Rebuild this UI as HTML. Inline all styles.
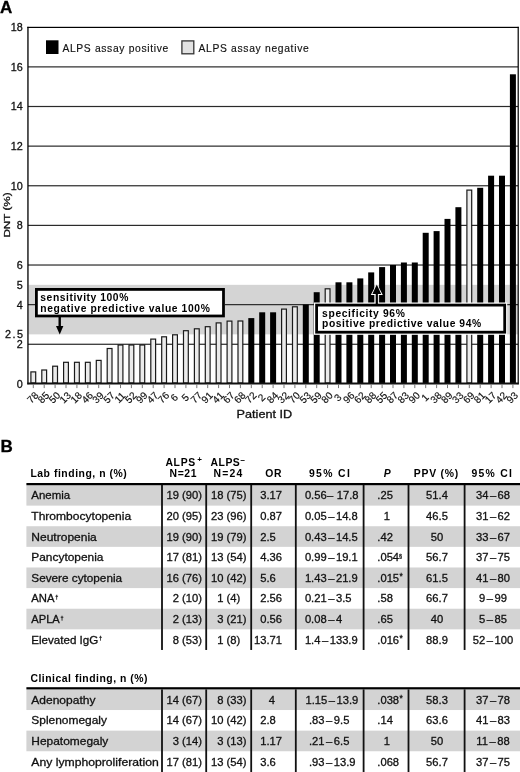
<!DOCTYPE html>
<html><head><meta charset="utf-8"><title>ALPS assay figure</title>
<style>
html,body{margin:0;padding:0;background:#fff;}
svg{display:block;}
text{font-family:"Liberation Sans", Arial, Helvetica, sans-serif;fill:#111;stroke:#111;stroke-width:0.3px;}
.big{font-size:17px;font-weight:700;fill:#000;stroke:#000;stroke-width:0.3px;}
.xl{font-size:10.1px;stroke-width:0.15px;}
.yl{font-size:10.8px;}
.yt{font-size:9.8px;}
.at{font-size:10.4px;}
.lg{font-size:10.3px;stroke-width:0.15px;}
.bx{font-size:10.3px;font-weight:700;fill:#000;stroke:none;}
.hd{font-size:10.4px;font-weight:700;fill:#000;stroke:none;}
.sup{font-size:8px;font-weight:700;fill:#000;stroke:none;}
.td{font-size:11.2px;}
.supd{font-size:5.5px;}
.supa{font-size:8.5px;}
</style></head><body>
<svg width="520" height="772" viewBox="0 0 520 772">
<text x="0" y="13" class="big">A</text>
<rect x="28.5" y="284.83" width="489.5" height="49.54" fill="#d4d4d4"/>
<rect x="28" y="66.28" width="490" height="1.2" fill="#2a2a2a"/>
<rect x="28" y="105.90" width="490" height="1.2" fill="#2a2a2a"/>
<rect x="28" y="145.53" width="490" height="1.2" fill="#2a2a2a"/>
<rect x="28" y="185.16" width="490" height="1.2" fill="#2a2a2a"/>
<rect x="28" y="224.79" width="490" height="1.2" fill="#2a2a2a"/>
<rect x="28" y="264.42" width="490" height="1.2" fill="#2a2a2a"/>
<rect x="28" y="304.04" width="490" height="1.2" fill="#2a2a2a"/>
<rect x="28" y="343.67" width="490" height="1.2" fill="#2a2a2a"/>
<rect x="27.3" y="26.8" width="491.4" height="1.2" fill="#000"/>
<rect x="27.3" y="26.8" width="1.3" height="357.5" fill="#000"/>
<rect x="517.6" y="26.8" width="1.2" height="357.5" fill="#000"/>
<rect x="30.90" y="371.90" width="4.8" height="11.10" fill="#ebebeb" stroke="#1a1a1a" stroke-width="1.2"/>
<rect x="41.80" y="370.00" width="4.8" height="13.00" fill="#ebebeb" stroke="#1a1a1a" stroke-width="1.2"/>
<rect x="52.70" y="366.20" width="4.8" height="16.80" fill="#ebebeb" stroke="#1a1a1a" stroke-width="1.2"/>
<rect x="63.60" y="362.30" width="4.8" height="20.70" fill="#ebebeb" stroke="#1a1a1a" stroke-width="1.2"/>
<rect x="74.50" y="362.30" width="4.8" height="20.70" fill="#ebebeb" stroke="#1a1a1a" stroke-width="1.2"/>
<rect x="85.40" y="362.30" width="4.8" height="20.70" fill="#ebebeb" stroke="#1a1a1a" stroke-width="1.2"/>
<rect x="96.30" y="360.40" width="4.8" height="22.60" fill="#ebebeb" stroke="#1a1a1a" stroke-width="1.2"/>
<rect x="107.20" y="348.50" width="4.8" height="34.50" fill="#ebebeb" stroke="#1a1a1a" stroke-width="1.2"/>
<rect x="118.10" y="345.00" width="4.8" height="38.00" fill="#ebebeb" stroke="#1a1a1a" stroke-width="1.2"/>
<rect x="129.00" y="345.00" width="4.8" height="38.00" fill="#ebebeb" stroke="#1a1a1a" stroke-width="1.2"/>
<rect x="139.90" y="345.00" width="4.8" height="38.00" fill="#ebebeb" stroke="#1a1a1a" stroke-width="1.2"/>
<rect x="150.80" y="339.10" width="4.8" height="43.90" fill="#ebebeb" stroke="#1a1a1a" stroke-width="1.2"/>
<rect x="161.70" y="336.80" width="4.8" height="46.20" fill="#ebebeb" stroke="#1a1a1a" stroke-width="1.2"/>
<rect x="172.60" y="334.80" width="4.8" height="48.20" fill="#ebebeb" stroke="#1a1a1a" stroke-width="1.2"/>
<rect x="183.50" y="330.70" width="4.8" height="52.30" fill="#ebebeb" stroke="#1a1a1a" stroke-width="1.2"/>
<rect x="194.40" y="328.80" width="4.8" height="54.20" fill="#ebebeb" stroke="#1a1a1a" stroke-width="1.2"/>
<rect x="205.30" y="326.70" width="4.8" height="56.30" fill="#ebebeb" stroke="#1a1a1a" stroke-width="1.2"/>
<rect x="216.20" y="322.90" width="4.8" height="60.10" fill="#ebebeb" stroke="#1a1a1a" stroke-width="1.2"/>
<rect x="227.10" y="321.10" width="4.8" height="61.90" fill="#ebebeb" stroke="#1a1a1a" stroke-width="1.2"/>
<rect x="238.00" y="321.00" width="4.8" height="62.00" fill="#ebebeb" stroke="#1a1a1a" stroke-width="1.2"/>
<rect x="248.30" y="318.10" width="6" height="64.90" fill="#000"/>
<rect x="259.20" y="312.30" width="6" height="70.70" fill="#000"/>
<rect x="270.10" y="312.30" width="6" height="70.70" fill="#000"/>
<rect x="281.60" y="309.10" width="4.8" height="73.90" fill="#ebebeb" stroke="#1a1a1a" stroke-width="1.2"/>
<rect x="292.50" y="306.80" width="4.8" height="76.20" fill="#ebebeb" stroke="#1a1a1a" stroke-width="1.2"/>
<rect x="302.80" y="304.50" width="6" height="78.50" fill="#000"/>
<rect x="313.70" y="292.20" width="6" height="90.80" fill="#000"/>
<rect x="325.20" y="288.80" width="4.8" height="94.20" fill="#ebebeb" stroke="#1a1a1a" stroke-width="1.2"/>
<rect x="335.50" y="282.30" width="6" height="100.70" fill="#000"/>
<rect x="346.40" y="282.30" width="6" height="100.70" fill="#000"/>
<rect x="357.30" y="278.40" width="6" height="104.60" fill="#000"/>
<rect x="368.20" y="272.40" width="6" height="110.60" fill="#000"/>
<rect x="379.10" y="267.10" width="6" height="115.90" fill="#000"/>
<rect x="390.00" y="265.00" width="6" height="118.00" fill="#000"/>
<rect x="400.90" y="262.50" width="6" height="120.50" fill="#000"/>
<rect x="411.80" y="262.50" width="6" height="120.50" fill="#000"/>
<rect x="422.70" y="232.80" width="6" height="150.20" fill="#000"/>
<rect x="433.60" y="231.10" width="6" height="151.90" fill="#000"/>
<rect x="444.50" y="218.90" width="6" height="164.10" fill="#000"/>
<rect x="455.40" y="207.20" width="6" height="175.80" fill="#000"/>
<rect x="466.90" y="190.10" width="4.8" height="192.90" fill="#ebebeb" stroke="#1a1a1a" stroke-width="1.2"/>
<rect x="477.20" y="187.80" width="6" height="195.20" fill="#000"/>
<rect x="488.10" y="175.70" width="6" height="207.30" fill="#000"/>
<rect x="499.00" y="175.70" width="6" height="207.30" fill="#000"/>
<rect x="509.90" y="74.30" width="6" height="308.70" fill="#000"/>
<rect x="27.3" y="382.5" width="491.4" height="2" fill="#111"/>
<rect x="32.80" y="384.3" width="1" height="3.8" fill="#777"/>
<text x="32.60" y="397.5" transform="rotate(-45 32.60 397.5)" text-anchor="middle" dy="3.6" class="xl">78</text>
<rect x="43.70" y="384.3" width="1" height="3.8" fill="#777"/>
<text x="43.50" y="397.5" transform="rotate(-45 43.50 397.5)" text-anchor="middle" dy="3.6" class="xl">85</text>
<rect x="54.60" y="384.3" width="1" height="3.8" fill="#777"/>
<text x="54.40" y="397.5" transform="rotate(-45 54.40 397.5)" text-anchor="middle" dy="3.6" class="xl">50</text>
<rect x="65.50" y="384.3" width="1" height="3.8" fill="#777"/>
<text x="65.30" y="397.5" transform="rotate(-45 65.30 397.5)" text-anchor="middle" dy="3.6" class="xl">13</text>
<rect x="76.40" y="384.3" width="1" height="3.8" fill="#777"/>
<text x="76.20" y="397.5" transform="rotate(-45 76.20 397.5)" text-anchor="middle" dy="3.6" class="xl">18</text>
<rect x="87.30" y="384.3" width="1" height="3.8" fill="#777"/>
<text x="87.10" y="397.5" transform="rotate(-45 87.10 397.5)" text-anchor="middle" dy="3.6" class="xl">46</text>
<rect x="98.20" y="384.3" width="1" height="3.8" fill="#777"/>
<text x="98.00" y="397.5" transform="rotate(-45 98.00 397.5)" text-anchor="middle" dy="3.6" class="xl">39</text>
<rect x="109.10" y="384.3" width="1" height="3.8" fill="#777"/>
<text x="108.90" y="397.5" transform="rotate(-45 108.90 397.5)" text-anchor="middle" dy="3.6" class="xl">57</text>
<rect x="120.00" y="384.3" width="1" height="3.8" fill="#777"/>
<text x="119.80" y="397.5" transform="rotate(-45 119.80 397.5)" text-anchor="middle" dy="3.6" class="xl">11</text>
<rect x="130.90" y="384.3" width="1" height="3.8" fill="#777"/>
<text x="130.70" y="397.5" transform="rotate(-45 130.70 397.5)" text-anchor="middle" dy="3.6" class="xl">52</text>
<rect x="141.80" y="384.3" width="1" height="3.8" fill="#777"/>
<text x="141.60" y="397.5" transform="rotate(-45 141.60 397.5)" text-anchor="middle" dy="3.6" class="xl">99</text>
<rect x="152.70" y="384.3" width="1" height="3.8" fill="#777"/>
<text x="152.50" y="397.5" transform="rotate(-45 152.50 397.5)" text-anchor="middle" dy="3.6" class="xl">47</text>
<rect x="163.60" y="384.3" width="1" height="3.8" fill="#777"/>
<text x="163.40" y="397.5" transform="rotate(-45 163.40 397.5)" text-anchor="middle" dy="3.6" class="xl">76</text>
<rect x="174.50" y="384.3" width="1" height="3.8" fill="#777"/>
<text x="174.30" y="397.5" transform="rotate(-45 174.30 397.5)" text-anchor="middle" dy="3.6" class="xl">6</text>
<rect x="185.40" y="384.3" width="1" height="3.8" fill="#777"/>
<text x="185.20" y="397.5" transform="rotate(-45 185.20 397.5)" text-anchor="middle" dy="3.6" class="xl">5</text>
<rect x="196.30" y="384.3" width="1" height="3.8" fill="#777"/>
<text x="196.10" y="397.5" transform="rotate(-45 196.10 397.5)" text-anchor="middle" dy="3.6" class="xl">77</text>
<rect x="207.20" y="384.3" width="1" height="3.8" fill="#777"/>
<text x="207.00" y="397.5" transform="rotate(-45 207.00 397.5)" text-anchor="middle" dy="3.6" class="xl">91</text>
<rect x="218.10" y="384.3" width="1" height="3.8" fill="#777"/>
<text x="217.90" y="397.5" transform="rotate(-45 217.90 397.5)" text-anchor="middle" dy="3.6" class="xl">41</text>
<rect x="229.00" y="384.3" width="1" height="3.8" fill="#777"/>
<text x="228.80" y="397.5" transform="rotate(-45 228.80 397.5)" text-anchor="middle" dy="3.6" class="xl">67</text>
<rect x="239.90" y="384.3" width="1" height="3.8" fill="#777"/>
<text x="239.70" y="397.5" transform="rotate(-45 239.70 397.5)" text-anchor="middle" dy="3.6" class="xl">68</text>
<rect x="250.80" y="384.3" width="1" height="3.8" fill="#777"/>
<text x="250.60" y="397.5" transform="rotate(-45 250.60 397.5)" text-anchor="middle" dy="3.6" class="xl">72</text>
<rect x="261.70" y="384.3" width="1" height="3.8" fill="#777"/>
<text x="261.50" y="397.5" transform="rotate(-45 261.50 397.5)" text-anchor="middle" dy="3.6" class="xl">2</text>
<rect x="272.60" y="384.3" width="1" height="3.8" fill="#777"/>
<text x="272.40" y="397.5" transform="rotate(-45 272.40 397.5)" text-anchor="middle" dy="3.6" class="xl">84</text>
<rect x="283.50" y="384.3" width="1" height="3.8" fill="#777"/>
<text x="283.30" y="397.5" transform="rotate(-45 283.30 397.5)" text-anchor="middle" dy="3.6" class="xl">32</text>
<rect x="294.40" y="384.3" width="1" height="3.8" fill="#777"/>
<text x="294.20" y="397.5" transform="rotate(-45 294.20 397.5)" text-anchor="middle" dy="3.6" class="xl">70</text>
<rect x="305.30" y="384.3" width="1" height="3.8" fill="#777"/>
<text x="305.10" y="397.5" transform="rotate(-45 305.10 397.5)" text-anchor="middle" dy="3.6" class="xl">53</text>
<rect x="316.20" y="384.3" width="1" height="3.8" fill="#777"/>
<text x="316.00" y="397.5" transform="rotate(-45 316.00 397.5)" text-anchor="middle" dy="3.6" class="xl">59</text>
<rect x="327.10" y="384.3" width="1" height="3.8" fill="#777"/>
<text x="326.90" y="397.5" transform="rotate(-45 326.90 397.5)" text-anchor="middle" dy="3.6" class="xl">80</text>
<rect x="338.00" y="384.3" width="1" height="3.8" fill="#777"/>
<text x="337.80" y="397.5" transform="rotate(-45 337.80 397.5)" text-anchor="middle" dy="3.6" class="xl">3</text>
<rect x="348.90" y="384.3" width="1" height="3.8" fill="#777"/>
<text x="348.70" y="397.5" transform="rotate(-45 348.70 397.5)" text-anchor="middle" dy="3.6" class="xl">96</text>
<rect x="359.80" y="384.3" width="1" height="3.8" fill="#777"/>
<text x="359.60" y="397.5" transform="rotate(-45 359.60 397.5)" text-anchor="middle" dy="3.6" class="xl">62</text>
<rect x="370.70" y="384.3" width="1" height="3.8" fill="#777"/>
<text x="370.50" y="397.5" transform="rotate(-45 370.50 397.5)" text-anchor="middle" dy="3.6" class="xl">88</text>
<rect x="381.60" y="384.3" width="1" height="3.8" fill="#777"/>
<text x="381.40" y="397.5" transform="rotate(-45 381.40 397.5)" text-anchor="middle" dy="3.6" class="xl">55</text>
<rect x="392.50" y="384.3" width="1" height="3.8" fill="#777"/>
<text x="392.30" y="397.5" transform="rotate(-45 392.30 397.5)" text-anchor="middle" dy="3.6" class="xl">87</text>
<rect x="403.40" y="384.3" width="1" height="3.8" fill="#777"/>
<text x="403.20" y="397.5" transform="rotate(-45 403.20 397.5)" text-anchor="middle" dy="3.6" class="xl">83</text>
<rect x="414.30" y="384.3" width="1" height="3.8" fill="#777"/>
<text x="414.10" y="397.5" transform="rotate(-45 414.10 397.5)" text-anchor="middle" dy="3.6" class="xl">90</text>
<rect x="425.20" y="384.3" width="1" height="3.8" fill="#777"/>
<text x="425.00" y="397.5" transform="rotate(-45 425.00 397.5)" text-anchor="middle" dy="3.6" class="xl">1</text>
<rect x="436.10" y="384.3" width="1" height="3.8" fill="#777"/>
<text x="435.90" y="397.5" transform="rotate(-45 435.90 397.5)" text-anchor="middle" dy="3.6" class="xl">38</text>
<rect x="447.00" y="384.3" width="1" height="3.8" fill="#777"/>
<text x="446.80" y="397.5" transform="rotate(-45 446.80 397.5)" text-anchor="middle" dy="3.6" class="xl">89</text>
<rect x="457.90" y="384.3" width="1" height="3.8" fill="#777"/>
<text x="457.70" y="397.5" transform="rotate(-45 457.70 397.5)" text-anchor="middle" dy="3.6" class="xl">33</text>
<rect x="468.80" y="384.3" width="1" height="3.8" fill="#777"/>
<text x="468.60" y="397.5" transform="rotate(-45 468.60 397.5)" text-anchor="middle" dy="3.6" class="xl">69</text>
<rect x="479.70" y="384.3" width="1" height="3.8" fill="#777"/>
<text x="479.50" y="397.5" transform="rotate(-45 479.50 397.5)" text-anchor="middle" dy="3.6" class="xl">81</text>
<rect x="490.60" y="384.3" width="1" height="3.8" fill="#777"/>
<text x="490.40" y="397.5" transform="rotate(-45 490.40 397.5)" text-anchor="middle" dy="3.6" class="xl">17</text>
<rect x="501.50" y="384.3" width="1" height="3.8" fill="#777"/>
<text x="501.30" y="397.5" transform="rotate(-45 501.30 397.5)" text-anchor="middle" dy="3.6" class="xl">42</text>
<rect x="512.40" y="384.3" width="1" height="3.8" fill="#777"/>
<text x="512.20" y="397.5" transform="rotate(-45 512.20 397.5)" text-anchor="middle" dy="3.6" class="xl">93</text>
<text x="22.7" y="31.15" text-anchor="end" class="yl">18</text>
<text x="22.7" y="70.78" text-anchor="end" class="yl">16</text>
<text x="22.7" y="110.40" text-anchor="end" class="yl">14</text>
<text x="22.7" y="150.03" text-anchor="end" class="yl">12</text>
<text x="22.7" y="189.66" text-anchor="end" class="yl">10</text>
<text x="22.7" y="229.29" text-anchor="end" class="yl">8</text>
<text x="22.7" y="268.92" text-anchor="end" class="yl">6</text>
<text x="22.7" y="288.73" text-anchor="end" class="yl">5</text>
<text x="22.7" y="308.54" text-anchor="end" class="yl">4</text>
<text x="22.7" y="348.17" text-anchor="end" class="yl">2</text>
<text x="22.7" y="387.80" text-anchor="end" class="yl">0</text>
<text x="5" y="338.06" class="yl" textLength="18" lengthAdjust="spacing">2.5</text>
<text x="0" y="0" transform="translate(10.2 237.6) rotate(-90)" class="yt" textLength="45.2" lengthAdjust="spacingAndGlyphs">DNT (%)</text>
<text x="236.6" y="418.2" class="at" textLength="55.6" lengthAdjust="spacingAndGlyphs">Patient ID</text>
<rect x="46" y="40.3" width="12.5" height="13.7" fill="#000"/>
<text x="62.4" y="51.6" class="lg" textLength="105.8" lengthAdjust="spacing">ALPS assay positive</text>
<rect x="181.9" y="40.9" width="11.9" height="12.9" fill="#e2e2e2" stroke="#333" stroke-width="1.3"/>
<text x="198.5" y="51.6" class="lg" textLength="110.2" lengthAdjust="spacing">ALPS assay negative</text>
<rect x="35" y="288" width="190" height="29.5" fill="#fff"/>
<rect x="36.4" y="289.4" width="187.1" height="26.6" fill="none" stroke="#000" stroke-width="2.8"/>
<text x="40.3" y="301.3" class="bx" textLength="88" lengthAdjust="spacing">sensitivity 100%</text>
<text x="40.3" y="312.2" class="bx" textLength="169.5" lengthAdjust="spacing">negative predictive value 100%</text>
<rect x="58.5" y="317" width="2.4" height="10" fill="#000"/>
<polygon points="56,326 63.4,326 59.7,334.5" fill="#000"/>
<rect x="314" y="302.5" width="193.2" height="32.3" fill="#fff"/>
<rect x="316.6" y="305.1" width="188.1" height="27.1" fill="none" stroke="#000" stroke-width="2.8"/>
<text x="322.1" y="316.8" class="bx" textLength="82.7" lengthAdjust="spacing">specificity 96%</text>
<text x="322.1" y="327.4" class="bx" textLength="159" lengthAdjust="spacing">positive predictive value 94%</text>
<polygon points="370.8,295 376.8,283.2 382.8,295 378.3,295 378.3,303 375.3,303 375.3,295" fill="#fff"/>
<rect x="375.7" y="292" width="2.2" height="12" fill="#000"/>
<polygon points="372.4,294 376.8,284.6 381.2,294" fill="#000"/>
<text x="0.5" y="452" class="big">B</text>
<rect x="26.4" y="485.00" width="493.6" height="20.62" fill="#d3d3d3"/>
<rect x="26.4" y="526.24" width="493.6" height="20.62" fill="#d3d3d3"/>
<rect x="26.4" y="567.48" width="493.6" height="20.62" fill="#d3d3d3"/>
<rect x="26.4" y="608.72" width="493.6" height="20.62" fill="#d3d3d3"/>
<rect x="26.4" y="689.40" width="493.6" height="20.62" fill="#d3d3d3"/>
<rect x="26.4" y="730.64" width="493.6" height="20.62" fill="#d3d3d3"/>
<rect x="26.4" y="483" width="493.6" height="2.2" fill="#000"/>
<rect x="26.4" y="687.2" width="493.6" height="2.2" fill="#000"/>
<rect x="161.10" y="485" width="1.8" height="164.96" fill="#111"/>
<rect x="161.10" y="689.4" width="1.8" height="82.60" fill="#111"/>
<rect x="205.30" y="485" width="1.8" height="164.96" fill="#111"/>
<rect x="205.30" y="689.4" width="1.8" height="82.60" fill="#111"/>
<rect x="250.30" y="485" width="1.8" height="164.96" fill="#111"/>
<rect x="250.30" y="689.4" width="1.8" height="82.60" fill="#111"/>
<rect x="294.90" y="485" width="1.8" height="164.96" fill="#111"/>
<rect x="294.90" y="689.4" width="1.8" height="82.60" fill="#111"/>
<rect x="362.70" y="485" width="1.8" height="164.96" fill="#111"/>
<rect x="362.70" y="689.4" width="1.8" height="82.60" fill="#111"/>
<rect x="407.60" y="485" width="1.8" height="164.96" fill="#111"/>
<rect x="407.60" y="689.4" width="1.8" height="82.60" fill="#111"/>
<rect x="463.70" y="485" width="1.8" height="164.96" fill="#111"/>
<rect x="463.70" y="689.4" width="1.8" height="82.60" fill="#111"/>
<text x="30.4" y="477.2" class="hd" textLength="96.4" lengthAdjust="spacing">Lab finding, n (%)</text>
<text x="165.4" y="466.3" class="hd" textLength="29.8" lengthAdjust="spacing">ALPS</text>
<text x="169.6" y="477.0" class="hd" textLength="26.9" lengthAdjust="spacing">N=21</text>
<text x="210.4" y="466.3" class="hd" textLength="29.4" lengthAdjust="spacing">ALPS</text>
<text x="213.5" y="477.0" class="hd" textLength="28.8" lengthAdjust="spacing">N=24</text>
<text x="265.2" y="477.2" class="hd" textLength="16.2" lengthAdjust="spacing">OR</text>
<text x="308.9" y="477.2" class="hd" textLength="40.9" lengthAdjust="spacing">95% CI</text>
<text x="413.8" y="477.2" class="hd" textLength="44.3" lengthAdjust="spacing">PPV (%)</text>
<text x="471.4" y="477.2" class="hd" textLength="40.5" lengthAdjust="spacing">95% CI</text>
<text x="30.4" y="682.4" class="hd" textLength="117.1" lengthAdjust="spacing">Clinical finding, n (%)</text>
<text x="383.7" y="477.2" class="hd" font-style="italic">P</text>
<text x="197.3" y="462" class="sup">+</text>
<text x="240.6" y="462.5" class="sup">−</text>
<text x="31.3" y="499.30" class="td" textLength="38.9" lengthAdjust="spacingAndGlyphs">Anemia</text>
<text x="202" y="499.30" class="td" text-anchor="end">19 (90)</text>
<text x="246.4" y="499.30" class="td" text-anchor="end">18 (75)</text>
<text x="260.2" y="499.30" class="td">3.17</text>
<text x="304.9" y="499.30" class="td">0.56<tspan dx="0.4">–</tspan><tspan dx="0.4"> 17.8</tspan></text>
<text x="377.3" y="499.30" class="td">.25</text>
<text x="437" y="499.30" class="td" text-anchor="middle">51.4</text>
<text x="493" y="499.30" class="td" text-anchor="middle">34<tspan dx="1.5">–</tspan><tspan dx="1.5">68</tspan></text>
<text x="31.3" y="519.92" class="td" textLength="99.8" lengthAdjust="spacingAndGlyphs">Thrombocytopenia</text>
<text x="202" y="519.92" class="td" text-anchor="end">20 (95)</text>
<text x="246.4" y="519.92" class="td" text-anchor="end">23 (96)</text>
<text x="260.2" y="519.92" class="td">0.87</text>
<text x="304.9" y="519.92" class="td">0.05<tspan dx="1.5">–</tspan><tspan dx="1.5">14.8</tspan></text>
<text x="386.8" y="519.92" class="td" text-anchor="middle">1</text>
<text x="437" y="519.92" class="td" text-anchor="middle">46.5</text>
<text x="493" y="519.92" class="td" text-anchor="middle">31<tspan dx="1.5">–</tspan><tspan dx="1.5">62</tspan></text>
<text x="31.3" y="540.54" class="td" textLength="65.5" lengthAdjust="spacingAndGlyphs">Neutropenia</text>
<text x="202" y="540.54" class="td" text-anchor="end">19 (90)</text>
<text x="246.4" y="540.54" class="td" text-anchor="end">19 (79)</text>
<text x="260.2" y="540.54" class="td">2.5</text>
<text x="304.9" y="540.54" class="td">0.43<tspan dx="1.5">–</tspan><tspan dx="1.5">14.5</tspan></text>
<text x="377.3" y="540.54" class="td">.42</text>
<text x="437" y="540.54" class="td" text-anchor="middle">50</text>
<text x="493" y="540.54" class="td" text-anchor="middle">33<tspan dx="1.5">–</tspan><tspan dx="1.5">67</tspan></text>
<text x="31.3" y="561.16" class="td" textLength="72.2" lengthAdjust="spacingAndGlyphs">Pancytopenia</text>
<text x="202" y="561.16" class="td" text-anchor="end">17 (81)</text>
<text x="246.4" y="561.16" class="td" text-anchor="end">13 (54)</text>
<text x="260.2" y="561.16" class="td">4.36</text>
<text x="304.9" y="561.16" class="td">0.99<tspan dx="1.5">–</tspan><tspan dx="1.5">19.1</tspan></text>
<text x="377.3" y="561.16" class="td">.054<tspan class="supd" dx="0" dy="-3">§</tspan></text>
<text x="437" y="561.16" class="td" text-anchor="middle">56.7</text>
<text x="493" y="561.16" class="td" text-anchor="middle">37<tspan dx="1.5">–</tspan><tspan dx="1.5">75</tspan></text>
<text x="31.3" y="581.78" class="td" textLength="90.8" lengthAdjust="spacingAndGlyphs">Severe cytopenia</text>
<text x="202" y="581.78" class="td" text-anchor="end">16 (76)</text>
<text x="246.4" y="581.78" class="td" text-anchor="end">10 (42)</text>
<text x="260.2" y="581.78" class="td">5.6</text>
<text x="304.9" y="581.78" class="td">1.43<tspan dx="1.5">–</tspan><tspan dx="1.5">21.9</tspan></text>
<text x="377.3" y="581.78" class="td">.015<tspan class="supa" dx="0.3" dy="-2.3">*</tspan></text>
<text x="437" y="581.78" class="td" text-anchor="middle">61.5</text>
<text x="493" y="581.78" class="td" text-anchor="middle">41<tspan dx="1.5">–</tspan><tspan dx="1.5">80</tspan></text>
<text x="31.3" y="602.40" class="td" textLength="23.2" lengthAdjust="spacingAndGlyphs">ANA</text>
<text x="55.2" y="599.00" class="supd">†</text>
<text x="202" y="602.40" class="td" text-anchor="end">2 (10)</text>
<text x="240.2" y="602.40" class="td" text-anchor="end">1 (4)</text>
<text x="260.2" y="602.40" class="td">2.56</text>
<text x="304.9" y="602.40" class="td">0.21<tspan dx="1.5">–</tspan><tspan dx="1.5">3.5</tspan></text>
<text x="377.3" y="602.40" class="td">.58</text>
<text x="437" y="602.40" class="td" text-anchor="middle">66.7</text>
<text x="493" y="602.40" class="td" text-anchor="middle">9<tspan dx="1.5">–</tspan><tspan dx="1.5">99</tspan></text>
<text x="31.3" y="623.02" class="td" textLength="28.5" lengthAdjust="spacingAndGlyphs">APLA</text>
<text x="60.6" y="619.62" class="supd">†</text>
<text x="202" y="623.02" class="td" text-anchor="end">2 (13)</text>
<text x="246.4" y="623.02" class="td" text-anchor="end">3 (21)</text>
<text x="260.2" y="623.02" class="td">0.56</text>
<text x="304.9" y="623.02" class="td">0.08<tspan dx="1.5">–</tspan><tspan dx="1.5">4</tspan></text>
<text x="377.3" y="623.02" class="td">.65</text>
<text x="437" y="623.02" class="td" text-anchor="middle">40</text>
<text x="493" y="623.02" class="td" text-anchor="middle">5<tspan dx="1.5">–</tspan><tspan dx="1.5">85</tspan></text>
<text x="31.3" y="643.64" class="td" textLength="67.0" lengthAdjust="spacingAndGlyphs">Elevated IgG</text>
<text x="98.9" y="640.24" class="supd">†</text>
<text x="202" y="643.64" class="td" text-anchor="end">8 (53)</text>
<text x="240.2" y="643.64" class="td" text-anchor="end">1 (8)</text>
<text x="254.0" y="643.64" class="td">13.71</text>
<text x="304.9" y="643.64" class="td">1.4<tspan dx="1.5">–</tspan><tspan dx="1.5">133.9</tspan></text>
<text x="377.3" y="643.64" class="td">.016<tspan class="supa" dx="0.3" dy="-2.3">*</tspan></text>
<text x="437" y="643.64" class="td" text-anchor="middle">88.9</text>
<text x="493" y="643.64" class="td" text-anchor="middle">52<tspan dx="1.5">–</tspan><tspan dx="1.5">100</tspan></text>
<text x="31.3" y="703.70" class="td" textLength="64.1" lengthAdjust="spacingAndGlyphs">Adenopathy</text>
<text x="202" y="703.70" class="td" text-anchor="end">14 (67)</text>
<text x="246.4" y="703.70" class="td" text-anchor="end">8 (33)</text>
<text x="271.8" y="703.70" class="td" text-anchor="middle">4</text>
<text x="305.5" y="703.70" class="td">1.15<tspan dx="1.5">–</tspan><tspan dx="1.5">13.9</tspan></text>
<text x="377.3" y="703.70" class="td">.038<tspan class="supa" dx="0.3" dy="-2.3">*</tspan></text>
<text x="437" y="703.70" class="td" text-anchor="middle">58.3</text>
<text x="493" y="703.70" class="td" text-anchor="middle">37<tspan dx="1.5">–</tspan><tspan dx="1.5">78</tspan></text>
<text x="31.3" y="724.32" class="td" textLength="75.7" lengthAdjust="spacingAndGlyphs">Splenomegaly</text>
<text x="202" y="724.32" class="td" text-anchor="end">14 (67)</text>
<text x="246.4" y="724.32" class="td" text-anchor="end">10 (42)</text>
<text x="260.2" y="724.32" class="td">2.8</text>
<text x="309.0" y="724.32" class="td">.83<tspan dx="1.5">–</tspan><tspan dx="1.5">9.5</tspan></text>
<text x="377.3" y="724.32" class="td">.14</text>
<text x="437" y="724.32" class="td" text-anchor="middle">63.6</text>
<text x="493" y="724.32" class="td" text-anchor="middle">41<tspan dx="1.5">–</tspan><tspan dx="1.5">83</tspan></text>
<text x="31.3" y="744.94" class="td" textLength="77.0" lengthAdjust="spacingAndGlyphs">Hepatomegaly</text>
<text x="202" y="744.94" class="td" text-anchor="end">3 (14)</text>
<text x="246.4" y="744.94" class="td" text-anchor="end">3 (13)</text>
<text x="260.2" y="744.94" class="td">1.17</text>
<text x="309.0" y="744.94" class="td">.21<tspan dx="1.5">–</tspan><tspan dx="1.5">6.5</tspan></text>
<text x="386.8" y="744.94" class="td" text-anchor="middle">1</text>
<text x="437" y="744.94" class="td" text-anchor="middle">50</text>
<text x="493" y="744.94" class="td" text-anchor="middle">11<tspan dx="1.5">–</tspan><tspan dx="1.5">88</tspan></text>
<text x="31.3" y="765.56" class="td" textLength="127.4" lengthAdjust="spacingAndGlyphs">Any lymphoproliferation</text>
<text x="202" y="765.56" class="td" text-anchor="end">17 (81)</text>
<text x="246.4" y="765.56" class="td" text-anchor="end">13 (54)</text>
<text x="260.2" y="765.56" class="td">3.6</text>
<text x="309.0" y="765.56" class="td">.93<tspan dx="1.5">–</tspan><tspan dx="1.5">13.9</tspan></text>
<text x="377.3" y="765.56" class="td">.068</text>
<text x="437" y="765.56" class="td" text-anchor="middle">56.7</text>
<text x="493" y="765.56" class="td" text-anchor="middle">37<tspan dx="1.5">–</tspan><tspan dx="1.5">75</tspan></text>
</svg>
</body></html>
